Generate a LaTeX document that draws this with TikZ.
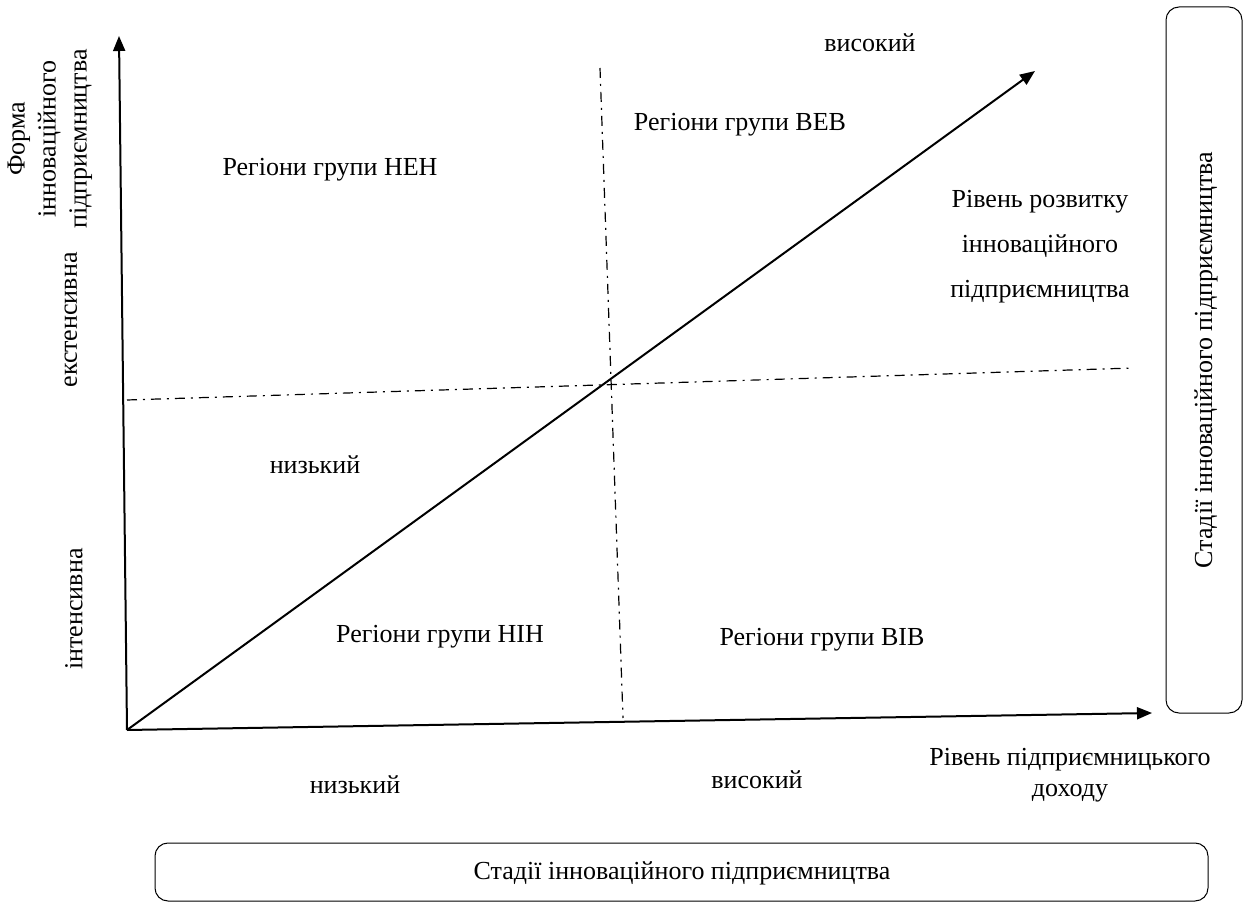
\documentclass[tikz,border=0pt]{standalone}
\usepackage{fontspec}
\setmainfont{Liberation Serif}
\usetikzlibrary{arrows.meta}
\tikzset{>={Triangle[width=6pt,length=7.5pt]}}
\tikzset{
  lbl/.style={font=\fontsize{13}{15.5}\selectfont, inner sep=0pt},
  axisline/.style={line width=1pt, ->},
  splitline/.style={line width=0.6pt, dash pattern=on 5pt off 3pt on 1pt off 3pt},
  stagebox/.style={line width=0.5pt, rounded corners=6.5pt}
}

\begin{document}
\begin{tikzpicture}[x=0.5pt, y=-0.5pt]
  \useasboundingbox (0,0) rectangle (1243,903);

  %% points
  \coordinate (O) at (127,730);
  \coordinate (ytip) at (119,36);
  \coordinate (xtip) at (1152,713);
  \coordinate (dtip) at (1035,71);
  \coordinate (hl) at (127,400);
  \coordinate (hr) at (1133,368);
  \coordinate (vt) at (600,68);
  \coordinate (vb) at (623,718);

  %% axes
  \draw[axisline] (O) -- (ytip);
  \draw[axisline] (O) -- (xtip);
  \draw[axisline] (O) -- (dtip);

  %% split lines
  \draw[splitline] (hl) -- (hr);
  \draw[splitline] (vt) -- (vb);

  %% quadrants
  \node[lbl] (nen) at (330,170) {Регіони групи НЕН};
  \node[lbl] (vev) at (740,125) {Регіони групи ВЕВ};
  \node[lbl] (nin) at (440,637) {Регіони групи НІН};
  \node[lbl] (viv) at (822,640) {Регіони групи ВІВ};

  %% diagonal
  \node[lbl] (dhigh) at (870,43) {високий};
  \node[lbl] (dlow) at (315,465) {низький};
  \node[lbl, align=center] (dname) at (1040,247)
  {Рівень розвитку\\[7pt]інноваційного\\[7pt]підприємництва};

  %% horizontal axis
  \node[lbl, align=center] (xname) at (1070,775)
  {Рівень підприємницького\\доходу};
  \node[lbl] (xlow) at (355,785) {низький};
  \node[lbl] (xhigh) at (757,780) {високий};

  %% vertical axis
  \node[lbl, rotate=90, align=center] (yname) at (50,139)
  {Форма\\інноваційного\\підприємництва};
  \node[lbl, rotate=90] (yext) at (71,320) {екстенсивна};
  \node[lbl, rotate=90] (yint) at (74,609) {інтенсивна};

  %% stages
  \draw[stagebox] (155,843) rectangle (1208,901);
  \node[lbl] (stagesb) at (682,873) {Стадії інноваційного підприємництва};
  \draw[stagebox] (1166,7) rectangle (1242,713);
  \node[lbl, rotate=90] (stagesr) at (1206,360) {Стадії інноваційного підприємництва};

\end{tikzpicture}
\end{document}
